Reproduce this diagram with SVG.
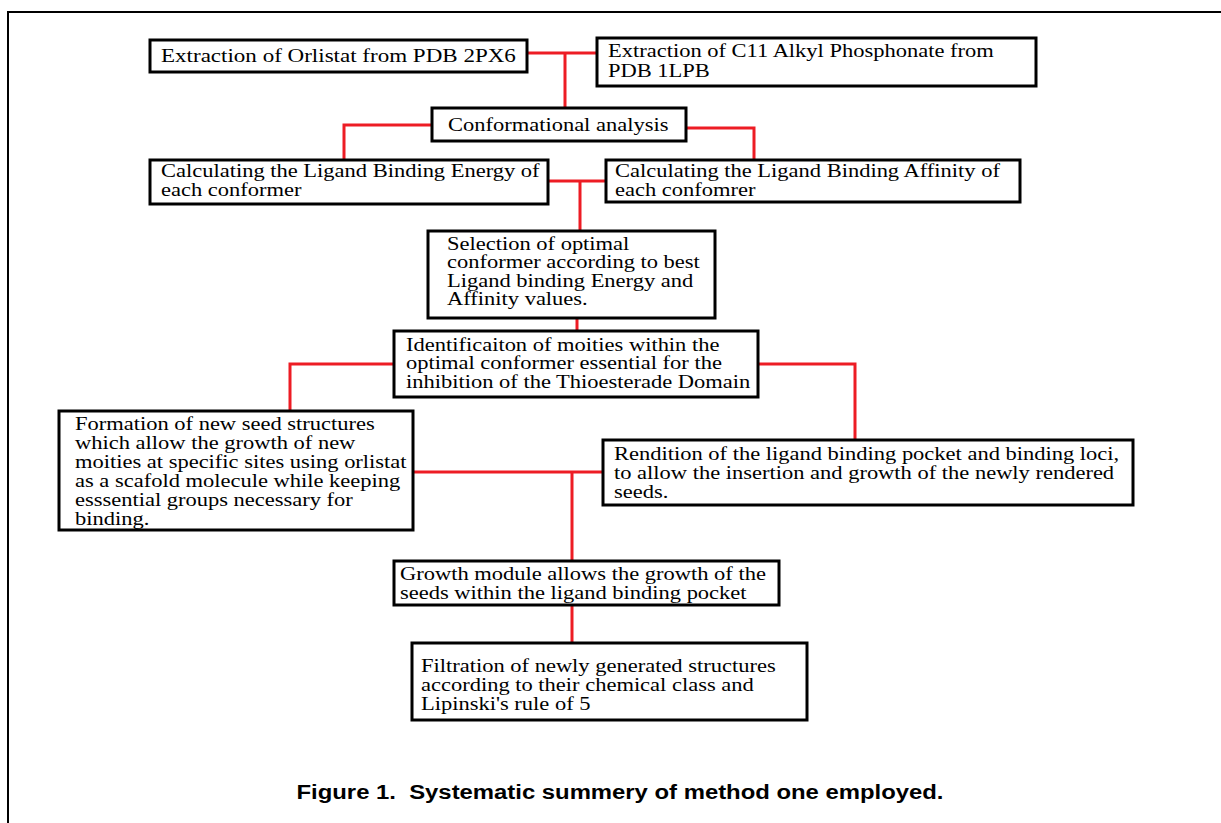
<svg xmlns="http://www.w3.org/2000/svg" width="1221" height="823" viewBox="0 0 1221 823">
<style>
.box{fill:#fff;stroke:#000;stroke-width:3}
.t{font-family:"Liberation Serif","Times New Roman",serif;font-size:18px;fill:#000}
.c{fill:none;stroke:#ed1c24;stroke-width:3}
.cap{font-family:"Liberation Sans",Arial,sans-serif;font-size:20px;font-weight:bold;fill:#000}
</style>
<rect x="0" y="0" width="1221" height="823" fill="#fff"/>
<path d="M8,823 V12 H1221" fill="none" stroke="#000" stroke-width="2"/>
<g id="connectors">
<path class="c" d="M527,53 H597 M565,53 V108"/>
<path class="c" d="M432,125 H344 V160"/>
<path class="c" d="M686,128 H754 V160"/>
<path class="c" d="M548,181 H606 M580,181 V230"/>
<path class="c" d="M577,318 V330"/>
<path class="c" d="M394,364 H290 V411"/>
<path class="c" d="M757,364 H855 V440"/>
<path class="c" d="M413,472 H603 M572,472 V561"/>
<path class="c" d="M572,605 V643"/>
</g>
<g id="n1"><rect class="box" x="150" y="40" width="377" height="32"/>
<text class="t" transform="translate(161 62) scale(1.28 1)"><tspan x="0" y="0">Extraction of Orlistat from PDB 2PX6</tspan></text></g>
<g id="n2"><rect class="box" x="597" y="38" width="439" height="48"/>
<text class="t" transform="translate(608 57) scale(1.25 1)"><tspan x="0" y="0">Extraction of C11 Alkyl Phosphonate from</tspan><tspan x="0" y="20">PDB 1LPB</tspan></text></g>
<g id="n3"><rect class="box" x="432" y="108" width="254" height="33"/>
<text class="t" transform="translate(448 131) scale(1.25 1)"><tspan x="0" y="0">Conformational analysis</tspan></text></g>
<g id="n4"><rect class="box" x="150" y="160" width="398" height="44"/>
<text class="t" transform="translate(161 177) scale(1.25 1)"><tspan x="0" y="0">Calculating the Ligand Binding Energy of</tspan><tspan x="0" y="19">each conformer</tspan></text></g>
<g id="n5"><rect class="box" x="606" y="160" width="414" height="42"/>
<text class="t" transform="translate(615 177) scale(1.25 1)"><tspan x="0" y="0">Calculating the Ligand Binding Affinity of</tspan><tspan x="0" y="19">each confomrer</tspan></text></g>
<g id="n6"><rect class="box" x="428" y="231" width="287" height="87"/>
<text class="t" transform="translate(447 250) scale(1.25 1)"><tspan x="0" y="0">Selection of optimal</tspan><tspan x="0" y="18.5">conformer according to best</tspan><tspan x="0" y="37">Ligand binding Energy and</tspan><tspan x="0" y="55.5">Affinity values.</tspan></text></g>
<g id="n7"><rect class="box" x="394" y="331" width="364" height="66"/>
<text class="t" transform="translate(406 351) scale(1.25 1)"><tspan x="0" y="0">Identificaiton of moities within the</tspan><tspan x="0" y="18.5">optimal conformer essential for the</tspan><tspan x="0" y="37">inhibition of the Thioesterade Domain</tspan></text></g>
<g id="n8"><rect class="box" x="59" y="411" width="354" height="119"/>
<text class="t" transform="translate(75 430) scale(1.25 1)"><tspan x="0" y="0">Formation of new seed structures</tspan><tspan x="0" y="19">which allow the growth of new</tspan><tspan x="0" y="38">moities at specific sites using orlistat</tspan><tspan x="0" y="57">as a scafold molecule while keeping</tspan><tspan x="0" y="76">esssential groups necessary for</tspan><tspan x="0" y="95">binding.</tspan></text></g>
<g id="n9"><rect class="box" x="603" y="440" width="530" height="65"/>
<text class="t" transform="translate(614 460) scale(1.25 1)"><tspan x="0" y="0">Rendition of the ligand binding pocket and binding loci,</tspan><tspan x="0" y="19">to allow the insertion and growth of the newly rendered</tspan><tspan x="0" y="38">seeds.</tspan></text></g>
<g id="n10"><rect class="box" x="394" y="561" width="385" height="44"/>
<text class="t" transform="translate(400 580) scale(1.25 1)"><tspan x="0" y="0">Growth module allows the growth of the</tspan><tspan x="0" y="19">seeds within the ligand binding pocket</tspan></text></g>
<g id="n11"><rect class="box" x="412" y="643" width="395" height="77"/>
<text class="t" transform="translate(421 672) scale(1.25 1)"><tspan x="0" y="0">Filtration of newly generated structures</tspan><tspan x="0" y="19">according to their chemical class and</tspan><tspan x="0" y="38">Lipinski's rule of 5</tspan></text></g>
<text class="cap" x="620" y="799" text-anchor="middle" textLength="647" lengthAdjust="spacingAndGlyphs">Figure 1.&#160; Systematic summery of method one employed.</text>
</svg>
